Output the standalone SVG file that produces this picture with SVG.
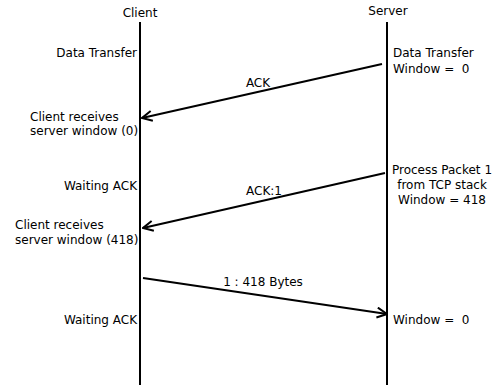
<svg xmlns="http://www.w3.org/2000/svg" width="493" height="387" viewBox="0 0 493 387">
<style>
text{font-family:"DejaVu Sans",sans-serif;font-size:12px;fill:#000}
.life{stroke:#000;stroke-width:2;fill:none}
.msg{stroke:#000;stroke-width:2;fill:none;marker-end:url(#arr)}
.r{text-anchor:end}
.m{text-anchor:middle}
</style>
<defs>
<marker id="arr" viewBox="0 0 12 12" refX="11" refY="6" markerWidth="12" markerHeight="12" markerUnits="userSpaceOnUse" orient="auto">
<path d="M1,1 L11,6 L1,11" fill="none" stroke="#000" stroke-width="2"/>
</marker>
</defs>
<rect width="493" height="387" fill="#fff"/>
<g id="client">
<text class="m" x="140" y="17">Client</text>
<line class="life" x1="140" y1="22" x2="140" y2="385"/>
<text class="r" x="137" y="57">Data Transfer</text>
<text x="30" y="121">Client receives</text>
<text x="30" y="135">server window (0)</text>
<text class="r" x="137" y="190">Waiting ACK</text>
<text x="15" y="229">Client receives</text>
<text x="15" y="244">server window (418)</text>
<text class="r" x="137" y="324">Waiting ACK</text>
</g>
<g id="server">
<text class="m" x="388" y="15">Server</text>
<line class="life" x1="387" y1="22" x2="387" y2="385"/>
<text x="393" y="57">Data Transfer</text>
<text x="393" y="73" xml:space="preserve">Window =  0</text>
<text class="m" x="442" y="174">Process Packet 1</text>
<text class="m" x="442" y="189">from TCP stack</text>
<text class="m" x="442" y="204">Window = 418</text>
<text x="393" y="324" xml:space="preserve">Window =  0</text>
</g>
<g id="connectors">
<line class="msg" x1="382" y1="64" x2="142" y2="118"/>
<text class="m" x="258" y="87">ACK</text>
<line class="msg" x1="385" y1="173" x2="143" y2="228"/>
<text class="m" x="264" y="195">ACK:1</text>
<line class="msg" x1="143" y1="278" x2="387" y2="314"/>
<text class="m" x="263" y="286" xml:space="preserve">1 : 418 Bytes</text>
</g>
</svg>
